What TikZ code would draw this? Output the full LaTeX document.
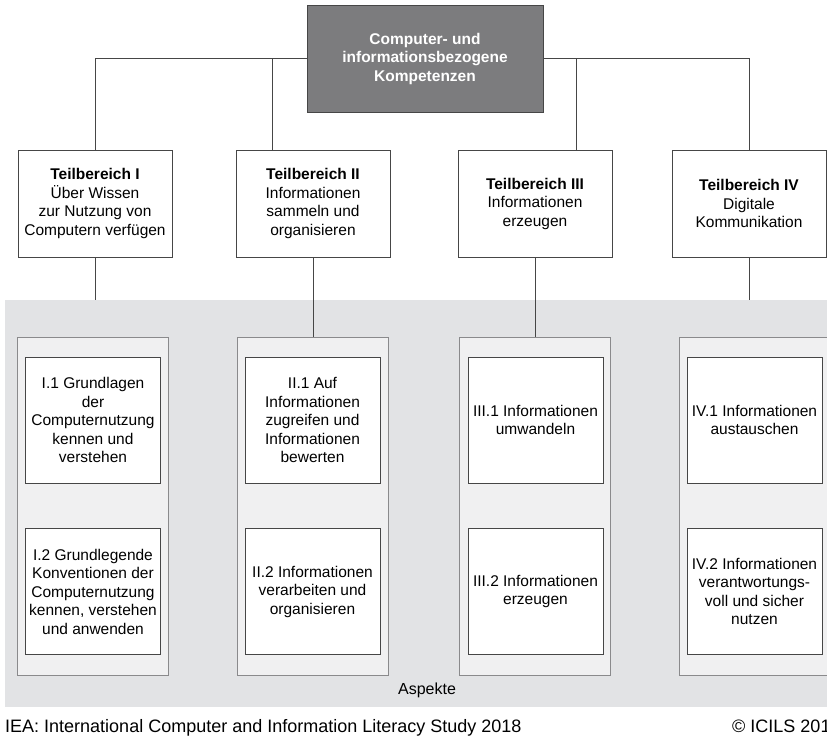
\documentclass[tikz,border=0pt]{standalone}
\usepackage{fontspec}
\setmainfont{Liberation Sans}
\usetikzlibrary{positioning}
\definecolor{ICILSDunkel}{RGB}{124,124,126}
\definecolor{ICILSFlaeche}{RGB}{226,227,229}
\definecolor{ICILSSpalte}{RGB}{240,240,241}
\definecolor{ICILSRand}{RGB}{70,70,70}
\definecolor{ICILSHell}{RGB}{138,138,140}

\begin{document}
\begin{tikzpicture}[x=1pt, y=-1pt,
    txt/.style={font=\fontsize{15.5}{18.5}\selectfont, align=center, inner sep=0pt},
    bereich/.style={txt, draw=ICILSRand, fill=white, minimum width=154pt, minimum height=107pt},
    spalte/.style={draw=ICILSHell, fill=ICILSSpalte, minimum width=151pt, minimum height=338pt, inner sep=0pt},
    aspekt/.style={txt, draw=ICILSRand, fill=white, minimum width=135pt, minimum height=126pt},
    verbindung/.style={draw=ICILSRand, line width=0.8pt}]
    \useasboundingbox[fill=white] (0,0) rectangle (827,737);

    % Flaeche fuer die Aspekte
    \node[fill=ICILSFlaeche, minimum width=830pt, minimum height=407pt, inner sep=0pt] (flaeche) at (420,503.5) {};
    \node[txt, font=\fontsize{16}{19}\selectfont] (aspektelabel) at (427,690) {Aspekte};

    % Kompetenzen und Teilbereiche
    \node[txt, draw=ICILSRand, fill=ICILSDunkel, text=white, font=\fontsize{15.5}{18.5}\selectfont\bfseries,
          minimum width=236pt, minimum height=107pt] (root) at (425,58.5)
          {Computer- und\\informationsbezogene\\Kompetenzen};
    \node[bereich] (tb1) at (95,203.5)  {\textbf{Teilbereich I}\\Über Wissen\\zur Nutzung von\\Computern verfügen};
    \node[bereich] (tb2) at (313,203.5) {\textbf{Teilbereich II}\\Informationen\\sammeln und\\organisieren};
    \node[bereich] (tb3) at (535,203.5) {\textbf{Teilbereich III}\\Informationen\\erzeugen};
    \node[bereich] (tb4) at (749,203.5) {\textbf{Teilbereich IV}\\Digitale\\Kommunikation};

    % Spalten
    \node[spalte] (col1) at (92.5,506)  {};
    \node[spalte] (col2) at (312.5,506) {};
    \node[spalte] (col3) at (535,506)   {};
    \node[spalte] (col4) at (754.5,506) {};

    % Aspekte
    \node[aspekt] (a11) at (93,420)    {I.1 Grundlagen\\der\\Computernutzung\\kennen und\\verstehen};
    \node[aspekt] (a12) at (93,591.5)  {I.2 Grundlegende\\Konventionen der\\Computernutzung\\kennen, verstehen\\und anwenden};
    \node[aspekt] (a21) at (312.5,420)   {II.1 Auf\\Informationen\\zugreifen und\\Informationen\\bewerten};
    \node[aspekt] (a22) at (312.5,591.5) {II.2 Informationen\\verarbeiten und\\organisieren};
    \node[aspekt] (a31) at (535.5,420)   {III.1 Informationen\\umwandeln};
    \node[aspekt] (a32) at (535.5,591.5) {III.2 Informationen\\erzeugen};
    \node[aspekt] (a41) at (754.5,420)   {IV.1 Informationen\\austauschen};
    \node[aspekt] (a42) at (754.5,591.5) {IV.2 Informationen\\verantwortungs-\\voll und sicher\\nutzen};

    % Verbindungen
    \path[verbindung] (root.west) -| (tb1.north);
    \path[verbindung] (root.east) -| (tb4.north);
    \path[verbindung] ([xshift=-41pt]tb2.north) |- (root.west);
    \path[verbindung] ([xshift=41pt]tb3.north)  |- (root.east);
    \path[verbindung] (tb1.south) -- (tb1.south |- flaeche.north);
    \path[verbindung] (tb2.south) -- (tb2.south |- col2.north);
    \path[verbindung] (tb3.south) -- (tb3.south |- col3.north);
    \path[verbindung] (tb4.south) -- (tb4.south |- flaeche.north);

    % Quelle
    \node[anchor=base west, inner sep=0pt, font=\fontsize{18}{21}\selectfont] (quelle) at (5,732)
          {IEA: International Computer and Information Literacy Study 2018};
    \node[anchor=base west, inner sep=0pt, font=\fontsize{18}{21}\selectfont] (copy) at (732,732)
          {© ICILS 2018};
\end{tikzpicture}
\end{document}
